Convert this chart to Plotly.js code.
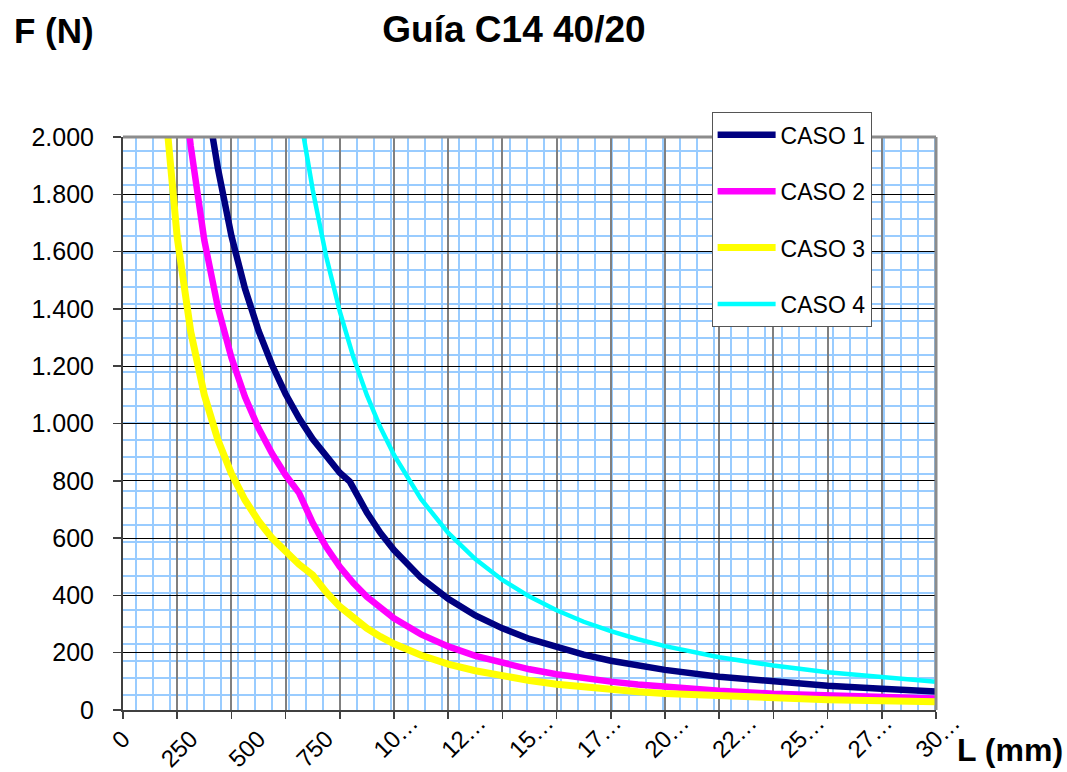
<!DOCTYPE html>
<html>
<head>
<meta charset="utf-8">
<script src="https://cdn.plot.ly/plotly-3.0.1.min.js"></script>
<style>
  html, body { margin: 0; padding: 0; background: #fff; }
  #chart { width: 1067px; height: 772px; }
</style>
</head>
<body>
<div id="chart"></div>
<script>
// ---- data ----
const seriesNames = ['CASO 1', 'CASO 2', 'CASO 3', 'CASO 4'];

const caso1L = [331, 350, 400, 450, 500, 550, 600, 650, 700, 750, 800, 837, 900, 950, 1000, 1100, 1200, 1300, 1400, 1500, 1600, 1700, 1800, 1900, 2000, 2200, 2400, 2600, 2800, 3000];
const caso1F = [2000, 1891, 1655, 1471, 1324, 1204, 1103, 1018, 946, 883, 828, 797, 689, 618, 558, 461, 388, 330, 285, 248, 218, 193, 172, 155, 140, 116, 99, 85, 74, 65];

const caso2L = [246, 250, 300, 350, 400, 450, 500, 550, 600, 650, 700, 750, 800, 850, 900, 950, 1000, 1100, 1200, 1300, 1400, 1500, 1600, 1700, 1800, 1900, 2000, 2200, 2400, 2600, 2800, 3000];
const caso2F = [2000, 1968, 1640, 1406, 1230, 1093, 984, 895, 820, 757, 653, 569, 500, 443, 395, 355, 320, 264, 222, 189, 163, 142, 125, 111, 99, 89, 81, 67, 57, 50, 44, 40];

const caso3L = [166, 200, 250, 300, 350, 400, 450, 500, 550, 600, 650, 700, 750, 800, 850, 900, 950, 1000, 1100, 1200, 1300, 1400, 1500, 1600, 1700, 1800, 1900, 2000, 2200, 2400, 2600, 2800, 3000];
const caso3F = [2000, 1650, 1320, 1100, 943, 825, 733, 660, 600, 550, 508, 471, 411, 361, 320, 285, 256, 231, 191, 160, 137, 118, 103, 90, 80, 71, 64, 58, 49, 42, 36, 32, 29];

const caso4L = [667, 700, 750, 800, 850, 900, 950, 1000, 1100, 1200, 1300, 1400, 1500, 1600, 1700, 1800, 1900, 2000, 2200, 2400, 2600, 2800, 3000];
const caso4F = [2000, 1816, 1582, 1391, 1232, 1099, 986, 890, 736, 618, 527, 454, 396, 348, 308, 275, 247, 223, 184, 155, 132, 114, 99];

const xTickVals = [0, 250, 500, 750, 1000, 1250, 1500, 1750, 2000, 2250, 2500, 2750, 3000];
const xTickText = ['0', '250', '500', '750', '10…', '12…', '15…', '17…', '20…', '22…', '25…', '27…', '30…'];

const seriesColors = ['#000080', '#FF00FF', '#FFFF00', '#00FFFF'];
const seriesWidths = [6.5, 6.5, 7, 4.5];

// ---- chart ----
const FONT = 'Liberation Sans, Arial, Helvetica, sans-serif';
const TICKFONT = { family: FONT, size: 24, color: '#000' };
const xs = [caso1L, caso2L, caso3L, caso4L];
const ys = [caso1F, caso2F, caso3F, caso4F];

// truncated labels: digits sit at the tick, the ellipsis trails after them
const digitText = xTickText.map(t => t.replace('…', ''));
const dotVals = xTickVals.filter((v, i) => xTickText[i].indexOf('…') >= 0);
const dotText = dotVals.map(() => '…');

const traces = seriesNames.map((n, i) => ({
  type: 'scatter', mode: 'lines', name: n,
  x: xs[i], y: ys[i],
  line: { color: seriesColors[i], width: seriesWidths[i] },
  legendgroup: 'g' + i,
  hoverinfo: 'x+y+name'
}));
// empty traces that only carry the label axes
traces.push({ type: 'scatter', mode: 'lines', x: [], y: [], xaxis: 'x2', yaxis: 'y', showlegend: false, hoverinfo: 'skip' });
traces.push({ type: 'scatter', mode: 'lines', x: [], y: [], xaxis: 'x3', yaxis: 'y', showlegend: false, hoverinfo: 'skip' });

const layout = {
  width: 1067, height: 772,
  margin: { l: 123, r: 131, t: 137, b: 62, pad: 0 },
  paper_bgcolor: '#ffffff', plot_bgcolor: '#ffffff',
  separators: ',.',
  font: { family: FONT, color: '#000' },
  title: {
    text: '<b>Guía C14 40/20</b>',
    font: { family: FONT, size: 37, color: '#000' },
    xref: 'container', x: 0.4817, xanchor: 'center',
    yref: 'container', y: 0.962, yanchor: 'middle'
  },
  showlegend: true,
  legend: {
    x: 0.724, y: 1.043, xanchor: 'left', yanchor: 'top',
    bgcolor: '#ffffff', bordercolor: '#555555', borderwidth: 1,
    font: { family: FONT, size: 23, color: '#000' },
    traceorder: 'grouped', tracegroupgap: 23.5, itemwidth: 58
  },
  xaxis: {
    range: [0, 3000], tickmode: 'linear', tick0: 0, dtick: 200,
    showticklabels: false, ticks: 'outside', ticklen: 7, tickwidth: 1.5, tickcolor: '#404040',
    showgrid: true, gridcolor: '#808080', gridwidth: 2,
    zeroline: false, showline: true, linecolor: '#404040', linewidth: 2,
    minor: { tickmode: 'linear', tick0: 46.9, dtick: 62.75, showgrid: true, gridcolor: '#99CCFF', gridwidth: 2, ticks: '' },
    fixedrange: true
  },
  xaxis2: {
    overlaying: 'x', side: 'bottom', anchor: 'y', range: [0, 3000],
    tickmode: 'array', tickvals: xTickVals, ticktext: digitText, tickangle: -45,
    tickfont: TICKFONT, ticklabelstandoff: 9,
    showgrid: false, zeroline: false, showline: false, ticks: '', fixedrange: true
  },
  xaxis3: {
    overlaying: 'x', side: 'bottom', anchor: 'y', range: [0, 3000],
    tickmode: 'array', tickvals: dotVals, ticktext: dotText, tickangle: -45,
    tickfont: TICKFONT, ticklabelstandoff: -7, ticklabelshift: 17,
    showgrid: false, zeroline: false, showline: false, ticks: '', fixedrange: true
  },
  yaxis: {
    range: [0, 2000], tickmode: 'linear', tick0: 0, dtick: 200, tickformat: ',',
    tickfont: { family: FONT, size: 25, color: '#000' },
    ticks: 'outside', ticklen: 8, tickwidth: 1.5, tickcolor: '#404040', ticklabelstandoff: 14,
    showgrid: true, gridcolor: '#000000', gridwidth: 1,
    zeroline: false, showline: true, linecolor: '#404040', linewidth: 2,
    minor: { tickmode: 'linear', tick0: 52.3, dtick: 59.34, showgrid: true, gridcolor: '#99CCFF', gridwidth: 2, ticks: '' },
    fixedrange: true
  },
  shapes: [
    { type: 'line', xref: 'paper', yref: 'paper', x0: 0, x1: 1, y0: 1, y1: 1, line: { color: '#8c8c8c', width: 3 }, layer: 'above' },
    { type: 'line', xref: 'paper', yref: 'paper', x0: 1, x1: 1, y0: 0, y1: 1, line: { color: '#8c8c8c', width: 3 }, layer: 'above' }
  ],
  annotations: [
    { text: '<b>F (N)</b>', xref: 'paper', yref: 'paper', x: -0.136, xanchor: 'left', y: 1.186, yanchor: 'middle',
      showarrow: false, font: { family: FONT, size: 35, color: '#000' } },
    { text: '<b>L (mm)</b>', xref: 'paper', yref: 'paper', x: 1.0234, xanchor: 'left', y: -0.0698, yanchor: 'middle',
      showarrow: false, font: { family: FONT, size: 32, color: '#000' } }
  ]
};

Plotly.newPlot('chart', traces, layout, { displayModeBar: false, staticPlot: true });
</script>
</body>
</html>
